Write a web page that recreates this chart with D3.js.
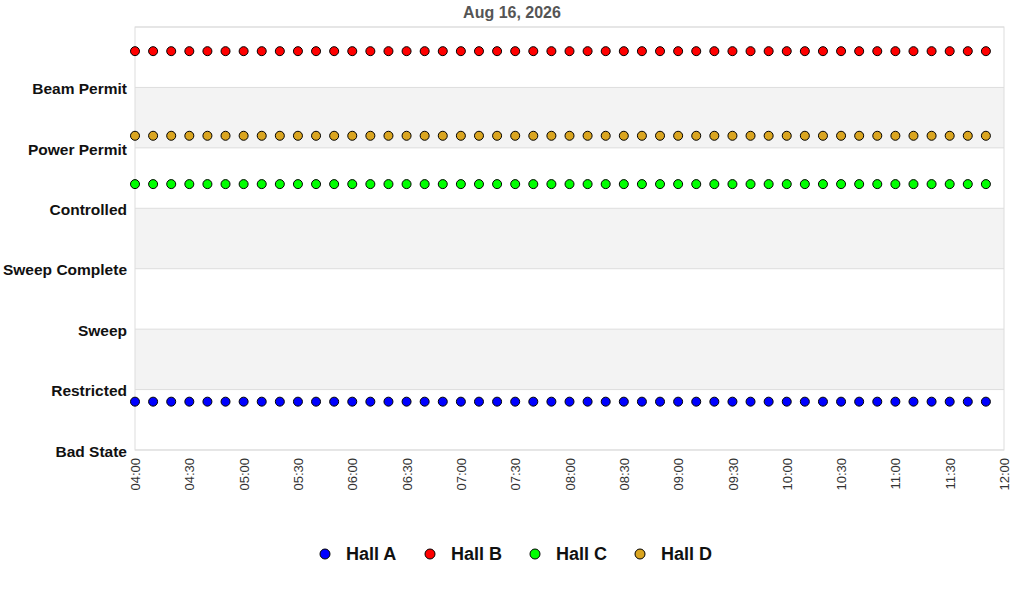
<!DOCTYPE html>
<html>
<head>
<meta charset="utf-8">
<script src="https://cdn.jsdelivr.net/npm/d3@7"></script>
<style>
  body { margin: 0; background: #fff; }
  svg { font-family: "Liberation Sans", Arial, sans-serif; }
</style>
</head>
<body>
<svg id="chart" width="1024" height="600"></svg>
<script>
// state levels, bottom to top
const states = ["Bad State", "Restricted", "Sweep", "Sweep Complete", "Controlled", "Power Permit", "Beam Permit"];

// sample times, every 10 minutes
const times = ["04:00","04:10","04:20","04:30","04:40","04:50","05:00","05:10","05:20","05:30","05:40","05:50",
  "06:00","06:10","06:20","06:30","06:40","06:50","07:00","07:10","07:20","07:30","07:40","07:50",
  "08:00","08:10","08:20","08:30","08:40","08:50","09:00","09:10","09:20","09:30","09:40","09:50",
  "10:00","10:10","10:20","10:30","10:40","10:50","11:00","11:10","11:20","11:30","11:40","11:50"];

const halls = ["Hall A", "Hall B", "Hall C", "Hall D"];
const hallColors = ["#0000ff", "#ff0000", "#00ff00", "#daa520"];

// state value per sample (offset a bit so halls don't overlap)
const hallA = [0.8,0.8,0.8,0.8,0.8,0.8,0.8,0.8,0.8,0.8,0.8,0.8,0.8,0.8,0.8,0.8,0.8,0.8,0.8,0.8,0.8,0.8,0.8,0.8,
  0.8,0.8,0.8,0.8,0.8,0.8,0.8,0.8,0.8,0.8,0.8,0.8,0.8,0.8,0.8,0.8,0.8,0.8,0.8,0.8,0.8,0.8,0.8,0.8];
const hallB = [6.6,6.6,6.6,6.6,6.6,6.6,6.6,6.6,6.6,6.6,6.6,6.6,6.6,6.6,6.6,6.6,6.6,6.6,6.6,6.6,6.6,6.6,6.6,6.6,
  6.6,6.6,6.6,6.6,6.6,6.6,6.6,6.6,6.6,6.6,6.6,6.6,6.6,6.6,6.6,6.6,6.6,6.6,6.6,6.6,6.6,6.6,6.6,6.6];
const hallC = [4.4,4.4,4.4,4.4,4.4,4.4,4.4,4.4,4.4,4.4,4.4,4.4,4.4,4.4,4.4,4.4,4.4,4.4,4.4,4.4,4.4,4.4,4.4,4.4,
  4.4,4.4,4.4,4.4,4.4,4.4,4.4,4.4,4.4,4.4,4.4,4.4,4.4,4.4,4.4,4.4,4.4,4.4,4.4,4.4,4.4,4.4,4.4,4.4];
const hallD = [5.2,5.2,5.2,5.2,5.2,5.2,5.2,5.2,5.2,5.2,5.2,5.2,5.2,5.2,5.2,5.2,5.2,5.2,5.2,5.2,5.2,5.2,5.2,5.2,
  5.2,5.2,5.2,5.2,5.2,5.2,5.2,5.2,5.2,5.2,5.2,5.2,5.2,5.2,5.2,5.2,5.2,5.2,5.2,5.2,5.2,5.2,5.2,5.2];
const hallValues = [hallA, hallB, hallC, hallD];

const margin = { top: 27, right: 20, bottom: 150, left: 135 };
const width = 1024, height = 600;
const svg = d3.select("#chart");

const parse = d3.timeParse("%Y-%m-%d %H:%M");
const x = d3.scaleTime()
  .domain([parse("2026-08-16 04:00"), parse("2026-08-16 12:00")])
  .range([margin.left, width - margin.right]);
const y = d3.scaleLinear()
  .domain([0, states.length])
  .range([height - margin.bottom, margin.top]);

// alternating bands
svg.append("g").selectAll("rect")
  .data(d3.range(states.length))
  .join("rect")
  .attr("x", x.range()[0])
  .attr("width", x.range()[1] - x.range()[0])
  .attr("y", d => y(d + 1))
  .attr("height", d => y(d) - y(d + 1))
  .attr("fill", d => d % 2 ? "#f3f3f3" : "#fff");

// grid lines
svg.append("g").selectAll("line")
  .data(d3.range(states.length + 1))
  .join("line")
  .attr("x1", x.range()[0]).attr("x2", x.range()[1])
  .attr("y1", d => y(d)).attr("y2", d => y(d))
  .attr("stroke", "#dddddd");

// frame
svg.append("rect")
  .attr("x", x.range()[0]).attr("y", y.range()[1])
  .attr("width", x.range()[1] - x.range()[0])
  .attr("height", y.range()[0] - y.range()[1])
  .attr("fill", "none").attr("stroke", "#dddddd");

// y axis labels
const yAxis = svg.append("g")
  .attr("transform", `translate(${margin.left},0)`)
  .call(d3.axisLeft(y).tickValues(d3.range(states.length)).tickFormat(i => states[i]).tickSize(0).tickPadding(8));
yAxis.select(".domain").remove();
yAxis.selectAll("text")
  .attr("fill", "#111")
  .attr("dy", "0.4em")
  .style("font-size", "15.5px")
  .style("font-weight", "bold");

// x axis
const xAxis = svg.append("g")
  .attr("transform", `translate(0,${height - margin.bottom})`)
  .call(d3.axisBottom(x).ticks(d3.timeMinute.every(30)).tickFormat(d3.timeFormat("%H:%M")).tickSize(0));
xAxis.select(".domain").remove();
xAxis.selectAll("text")
  .attr("transform", "rotate(-90)")
  .attr("text-anchor", "end")
  .attr("x", -8)
  .attr("y", 0)
  .attr("dy", "0.35em")
  .attr("fill", "#333")
  .style("font-size", "13px");

// points
halls.forEach((h, k) => {
  svg.append("g").selectAll("circle")
    .data(times.map((t, i) => ({ t: parse("2026-08-16 " + t), v: hallValues[k][i] })))
    .join("circle")
    .attr("cx", d => x(d.t))
    .attr("cy", d => y(d.v))
    .attr("r", 4.5)
    .attr("fill", hallColors[k])
    .attr("stroke", "#000")
    .attr("stroke-width", 1);
});

// title
svg.append("text")
  .attr("x", 512).attr("y", 18)
  .attr("text-anchor", "middle")
  .attr("fill", "#555")
  .style("font-size", "16px")
  .style("font-weight", "bold")
  .text("Aug 16, 2026");

// legend
const legend = svg.append("g").attr("transform", "translate(325,554)");
const item = legend.selectAll("g")
  .data(halls)
  .join("g")
  .attr("transform", (d, i) => `translate(${i * 105},0)`);
item.append("circle")
  .attr("r", 5)
  .attr("fill", (d, i) => hallColors[i])
  .attr("stroke", "#000");
item.append("text")
  .attr("x", 21).attr("dy", "0.35em")
  .attr("fill", "#111")
  .style("font-size", "18px")
  .style("font-weight", "bold")
  .text(d => d);
</script>
</body>
</html>
